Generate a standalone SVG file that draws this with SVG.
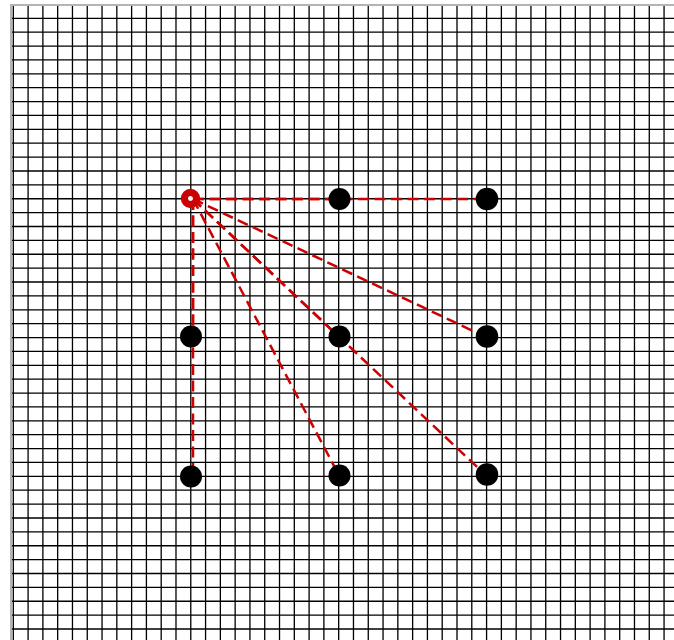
<svg xmlns="http://www.w3.org/2000/svg" width="674" height="640" viewBox="0 0 674 640">
<style>
.grid{stroke:#000;stroke-width:1.3;fill:none}
.frame{stroke:#b4b4b4;stroke-width:2;fill:none}
.link{stroke:#cc0000;stroke-width:2.5;stroke-dasharray:11 5.5;fill:none}
.node{fill:#000}
</style>
<rect width="674" height="640" fill="#fff"/>
<g id="grid">
<path class="grid" d="M13.3 5V640M28.09 5V640M42.88 5V640M57.67 5V640M72.46 5V640M87.25 5V640M102.04 5V640M116.83 5V640M131.62 5V640M146.41 5V640M161.2 5V640M175.99 5V640M190.78 5V640M205.57 5V640M220.36 5V640M235.15 5V640M249.94 5V640M264.73 5V640M279.52 5V640M294.31 5V640M309.1 5V640M323.89 5V640M338.68 5V640M353.47 5V640M368.26 5V640M383.05 5V640M397.84 5V640M412.63 5V640M427.42 5V640M442.21 5V640M457 5V640M471.79 5V640M486.58 5V640M501.37 5V640M516.16 5V640M530.95 5V640M545.74 5V640M560.53 5V640M575.32 5V640M590.11 5V640M604.9 5V640M619.69 5V640M634.48 5V640M649.27 5V640M664.06 5V640"/>
<path class="grid" d="M11 18.3H674M11 32.18H674M11 46.06H674M11 59.94H674M11 73.82H674M11 87.7H674M11 101.58H674M11 115.46H674M11 129.34H674M11 143.22H674M11 157.1H674M11 170.98H674M11 184.86H674M11 198.74H674M11 212.62H674M11 226.5H674M11 240.38H674M11 254.26H674M11 268.14H674M11 282.02H674M11 295.9H674M11 309.78H674M11 323.66H674M11 337.54H674M11 351.42H674M11 365.3H674M11 379.18H674M11 393.06H674M11 406.94H674M11 420.82H674M11 434.7H674M11 448.58H674M11 462.46H674M11 476.34H674M11 490.22H674M11 504.1H674M11 517.98H674M11 531.86H674M11 545.74H674M11 559.62H674M11 573.5H674M11 587.38H674M11 601.26H674M11 615.14H674M11 629.02H674"/>
<path class="frame" d="M11 640V5H674"/>
</g>
<g id="connectors">
<line class="link" x1="193" y1="199" x2="339.5" y2="199"/>
<line class="link" x1="193" y1="199" x2="487" y2="199"/>
<line class="link" x1="193" y1="199" x2="487" y2="337.5"/>
<line class="link" x1="193" y1="199" x2="339.5" y2="337.5"/>
<line class="link" x1="193" y1="199" x2="487" y2="476.3"/>
<line class="link" x1="193" y1="199" x2="339.5" y2="476.3"/>
<line class="link" x1="193" y1="199" x2="193" y2="337.5"/>
<line class="link" x1="193" y1="199" x2="193" y2="476.3"/>
</g>
<g id="n01"><circle class="node" cx="339.5" cy="199" r="11"/></g>
<g id="n02"><circle class="node" cx="487" cy="199" r="11.3"/></g>
<g id="n10"><circle class="node" cx="191" cy="336.5" r="11"/></g>
<g id="n11"><circle class="node" cx="339.5" cy="336.5" r="11"/></g>
<g id="n12"><circle class="node" cx="487" cy="336.5" r="11.3"/></g>
<g id="n20"><circle class="node" cx="191" cy="476.5" r="11"/></g>
<g id="n21"><circle class="node" cx="339.5" cy="475.5" r="11"/></g>
<g id="n22"><circle class="node" cx="487" cy="474.5" r="11.3"/></g>
<g id="origin"><circle cx="190.5" cy="198.5" r="6.1" fill="#fff" stroke="#cc0000" stroke-width="7.2"/></g>
</svg>
